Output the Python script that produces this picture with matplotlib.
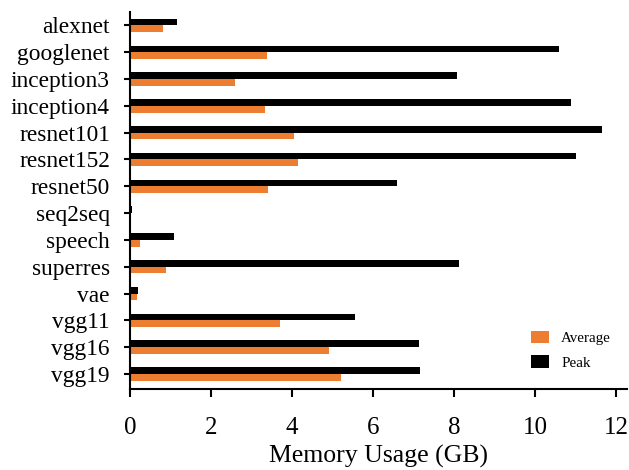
import numpy as np
import matplotlib
matplotlib.use("Agg")
import matplotlib.pyplot as plt

models = ["alexnet", "googlenet", "inception3", "inception4", "resnet101", "resnet152",
          "resnet50", "seq2seq", "speech", "superres", "vae", "vgg11", "vgg16", "vgg19"]
average = [0.81, 3.38, 2.59, 3.33, 4.05, 4.15, 3.41, 0.0, 0.25, 0.89, 0.17, 3.70, 4.91, 5.21]
peak = [1.16, 10.59, 8.07, 10.89, 11.65, 11.01, 6.59, 0.05, 1.09, 8.12, 0.20, 5.55, 7.14, 7.16]
xticks = [0, 2, 4, 6, 8, 10, 12]

plt.rcParams['font.family'] = ['Liberation Serif', 'DejaVu Serif']

fig = plt.figure(figsize=(6.29, 4.70), dpi=100)
ax = fig.add_axes([130 / 629, 1 - 389 / 470, 497 / 629, 377 / 470])

y = np.arange(len(models))
h = 0.25
ax.barh(y + h / 2, average, height=h, color="#ED7D31", label="Average")
ax.barh(y - h / 2, peak, height=h, color="black", label="Peak")

ax.set_yticks(y)
ax.set_yticklabels(models, fontsize=16.8)
ax.set_xticks(xticks)
ax.set_xticklabels([str(t) for t in xticks], fontsize=18)
ax.set_xlim(0, 12.27)
ax.set_ylim(13.56, -0.5)
ax.set_xlabel("Memory Usage (GB)", fontsize=18.5, labelpad=4.5)

for s in ["top", "right"]:
    ax.spines[s].set_visible(False)
for s in ["left", "bottom"]:
    ax.spines[s].set_linewidth(1.5)
ax.tick_params(axis="x", length=6, width=1.5, pad=14)
ax.tick_params(axis="y", length=4.5, width=1.5, pad=10)

ax.legend(loc="lower right", bbox_to_anchor=(0.995, 0.015), frameon=False, fontsize=10.8,
          handlelength=1.2, handleheight=0.9, labelspacing=0.7)

fig.savefig("out.png", dpi=100)
